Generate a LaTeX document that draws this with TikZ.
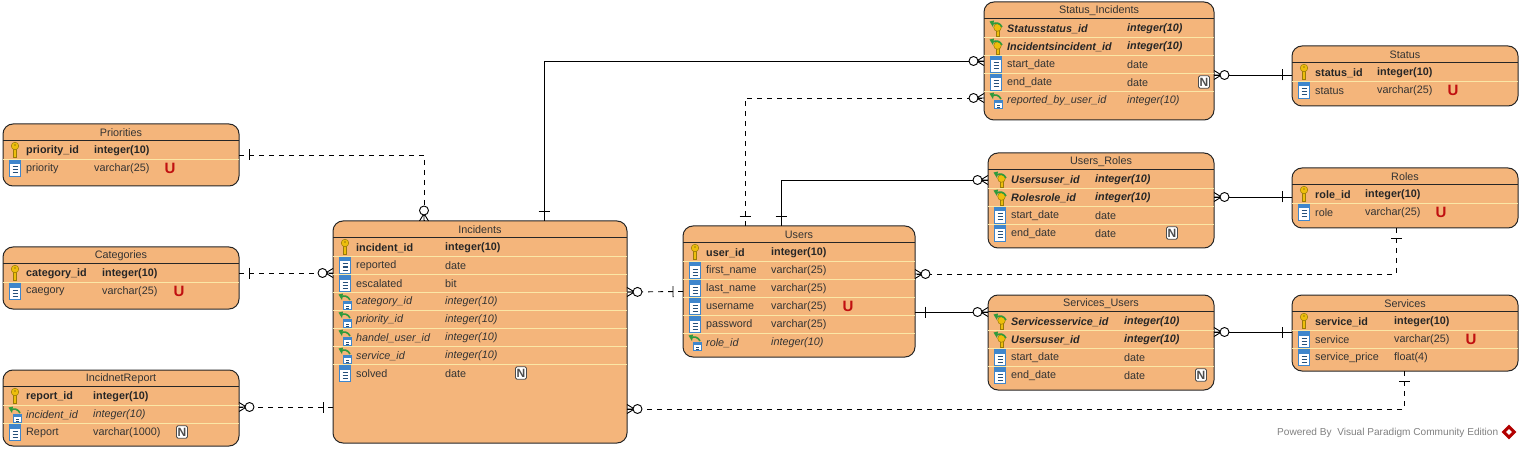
\documentclass[tikz,border=0pt]{standalone}
\usepackage{xcolor}
\usepackage{fontspec}
\setmainfont{Liberation Sans}
\usepackage{tikz}
\usetikzlibrary{decorations.markings,shapes.geometric}
\definecolor{tblfill}{HTML}{F4B57B}
\definecolor{tblrule}{HTML}{FBE7A6}
\definecolor{keygold}{HTML}{EDBE0C}
\definecolor{keyedge}{HTML}{9A7A08}
\definecolor{colblue}{HTML}{3F86CC}
\definecolor{fkgreen}{HTML}{2F9A3C}
\definecolor{badgered}{HTML}{C01010}
\newcommand{\entity}[8]{%
  \node[tbl, minimum width={(#4-#2)*1pt}, minimum height={(#5-#3)*1pt}] (#1) at (#2,#3) {};
  \node[tbltitle] (#1title) at ([yshift=-9pt]#1.north) {#6};
  \draw[tblhead] ([yshift=-16.5pt]#1.north west) -- ([yshift=-16.5pt]#1.north east);
  \foreach \r in {1,...,#7} {
    \draw[tblsep] ([yshift={-17.5pt-18pt*\r}]#1.north west) -- ([yshift={-17.5pt-18pt*\r}]#1.north east);
  }
  \def\typeoff{#8}%
}
\newcommand{\attr}[5]{%
  \pic at ([xshift=12pt,yshift={-26pt-18pt*#2}]#1.north west) {#3icon};
  \node[#3txt] (#1name#2) at ([xshift=23pt,yshift={-26.8pt-18pt*#2}]#1.north west) {#4};
  \node[#3txt] (#1type#2) at ([xshift=\typeoff pt,yshift={-26.8pt-18pt*#2}]#1.north west) {#5};
}
\begin{document}
\begin{tikzpicture}[
  x=1pt, y=-1pt,
  font=\fontsize{10.8}{12}\selectfont,
  tbl/.style={draw=black!85, line width=1pt, fill=tblfill, rounded corners=10pt, anchor=north west, inner sep=0pt, outer sep=0pt},
  tbltitle/.style={inner sep=0pt, text=black!80},
  tblhead/.style={black!85, line width=0.9pt},
  tblsep/.style={tblrule, line width=0.9pt},
  pktxt/.style={anchor=west, inner sep=0pt, font=\fontsize{10.8}{12}\selectfont\bfseries, text=black!85},
  coltxt/.style={anchor=west, inner sep=0pt, text=black!80},
  fktxt/.style={anchor=west, inner sep=0pt, font=\fontsize{10.8}{12}\selectfont\itshape, text=black!80},
  pfktxt/.style={anchor=west, inner sep=0pt, font=\fontsize{10.8}{12}\selectfont\bfseries\itshape, text=black!85},
  ubadge/.style={inner sep=0pt, font=\fontsize{15}{15}\selectfont\bfseries, text=badgered},
  nbadge/.style={draw=black!70, fill=white, rounded corners=1.5pt, line width=0.9pt, inner sep=0pt, minimum width=11pt, minimum height=12.5pt, font=\fontsize{12}{12}\selectfont\bfseries, text=black!70},
  rel/.style={line width=0.9pt, black, postaction={decorate, decoration={markings,
    mark=at position 10pt with {\draw[solid, line width=0.9pt] (0,-5.5) -- (0,5.5);},
    mark=at position -10.5pt with {
      \draw[solid, line width=0.9pt] (3,0) -- (10.5,-4.5) (3,0) -- (10.5,4.5) (3,0) -- (10.5,0);
      \draw[solid, line width=0.9pt, fill=white] (0,0) circle[radius=4.5];}}}},
  dep/.style={rel, dash pattern=on 5pt off 5pt},
  pkicon/.pic={
    \draw[keyedge, fill=keygold, line width=0.5pt] (-1.5,-2) -- (-1.5,7.5) -- (1.5,7.5) -- (1.5,-2) -- cycle;
    \draw[keyedge, fill=keygold, line width=0.5pt] (0,-4) ellipse[x radius=3.8, y radius=3.8];
    \fill[keyedge] (0,-5) circle[radius=0.9];
  },
  colicon/.pic={
    \draw[colblue, fill=white, line width=0.8pt] (-5.5,-7.5) rectangle (5.5,8);
    \fill[colblue] (-5.5,-7.5) rectangle (5.5,-3.5);
    \foreach \h in {-1,2,5} { \draw[colblue!60!black, line width=1pt] (-2.5,\h) -- (2.5,\h); }
  },
  fkicon/.pic={
    \draw[colblue, fill=white, line width=0.7pt] (-1.5,0.5) rectangle (6,8.5);
    \fill[colblue] (-1.5,0.5) rectangle (6,3);
    \draw[colblue!60!black, line width=0.9pt] (1,5) -- (3.5,5) (1,7) -- (3.5,7);
    \draw[fkgreen, line width=1.6pt] (5,-1) .. controls (3,-5) and (-1,-6) .. (-3.5,-4);
    \fill[fkgreen] (-6.5,-6.5) -- (-2,-7.5) -- (-3,-0.8) -- cycle;
  },
  pfkicon/.pic={
    \draw[keyedge, fill=keygold, line width=0.5pt] (0,0) -- (0,8) -- (3,8) -- (3,0) -- cycle;
    \draw[keyedge, fill=keygold, line width=0.5pt] (1.5,-0.5) ellipse[x radius=3.8, y radius=3.8];
    \draw[fkgreen, line width=1.6pt] (6,-1) .. controls (4,-5) and (0,-6) .. (-3,-4);
    \fill[fkgreen] (-6.5,-6.5) -- (-2,-7.5) -- (-3,-0.8) -- cycle;
  }
]
\useasboundingbox (0,0) rectangle (1521,449);
% tables
\entity{priorities}{3}{124}{239}{186}{Priorities}{1}{91}
\attr{priorities}{0}{pk}{priority\_id}{integer(10)}
\attr{priorities}{1}{col}{priority}{varchar(25)}
\node[ubadge] (priorities u) at (170,168) {U};

\entity{categories}{3}{247}{239}{309}{Categories}{1}{99}
\attr{categories}{0}{pk}{category\_id}{integer(10)}
\attr{categories}{1}{col}{caegory}{varchar(25)}
\node[ubadge] (categories u) at (179,291) {U};

\entity{report}{3}{370}{239}{446}{IncidnetReport}{2}{90}
\attr{report}{0}{pk}{report\_id}{integer(10)}
\attr{report}{1}{fk}{incident\_id}{integer(10)}
\attr{report}{2}{col}{Report}{varchar(1000)}
\node[nbadge] (report n) at (182,432) {N};

\entity{incidents}{333}{221}{627}{443}{Incidents}{7}{112}
\attr{incidents}{0}{pk}{incident\_id}{integer(10)}
\attr{incidents}{1}{col}{reported}{date}
\attr{incidents}{2}{col}{escalated}{bit}
\attr{incidents}{3}{fk}{category\_id}{integer(10)}
\attr{incidents}{4}{fk}{priority\_id}{integer(10)}
\attr{incidents}{5}{fk}{handel\_user\_id}{integer(10)}
\attr{incidents}{6}{fk}{service\_id}{integer(10)}
\attr{incidents}{7}{col}{solved}{date}
\node[nbadge] (incidents n) at (521,373) {N};

\entity{users}{683}{226}{915}{357}{Users}{5}{88}
\attr{users}{0}{pk}{user\_id}{integer(10)}
\attr{users}{1}{col}{first\_name}{varchar(25)}
\attr{users}{2}{col}{last\_name}{varchar(25)}
\attr{users}{3}{col}{username}{varchar(25)}
\attr{users}{4}{col}{password}{varchar(25)}
\attr{users}{5}{fk}{role\_id}{integer(10)}
\node[ubadge] (users u) at (848,306) {U};

\entity{statusinc}{984}{2}{1214}{120}{Status\_Incidents}{4}{143}
\attr{statusinc}{0}{pfk}{Statusstatus\_id}{integer(10)}
\attr{statusinc}{1}{pfk}{Incidentsincident\_id}{integer(10)}
\attr{statusinc}{2}{col}{start\_date}{date}
\attr{statusinc}{3}{col}{end\_date}{date}
\attr{statusinc}{4}{fk}{reported\_by\_user\_id}{integer(10)}
\node[nbadge] (statusinc n) at (1204,82) {N};

\entity{usersroles}{988}{153}{1214}{248}{Users\_Roles}{3}{107}
\attr{usersroles}{0}{pfk}{Usersuser\_id}{integer(10)}
\attr{usersroles}{1}{pfk}{Rolesrole\_id}{integer(10)}
\attr{usersroles}{2}{col}{start\_date}{date}
\attr{usersroles}{3}{col}{end\_date}{date}
\node[nbadge] (usersroles n) at (1172,233) {N};

\entity{servusers}{988}{295}{1214}{390}{Services\_Users}{3}{136}
\attr{servusers}{0}{pfk}{Servicesservice\_id}{integer(10)}
\attr{servusers}{1}{pfk}{Usersuser\_id}{integer(10)}
\attr{servusers}{2}{col}{start\_date}{date}
\attr{servusers}{3}{col}{end\_date}{date}
\node[nbadge] (servusers n) at (1201,375) {N};

\entity{status}{1292}{46}{1518}{106}{Status}{1}{85}
\attr{status}{0}{pk}{status\_id}{integer(10)}
\attr{status}{1}{col}{status}{varchar(25)}
\node[ubadge] (status u) at (1453,90) {U};

\entity{roles}{1292}{168}{1518}{228}{Roles}{1}{73}
\attr{roles}{0}{pk}{role\_id}{integer(10)}
\attr{roles}{1}{col}{role}{varchar(25)}
\node[ubadge] (roles u) at (1441,212) {U};

\entity{services}{1292}{295}{1518}{371}{Services}{2}{102}
\attr{services}{0}{pk}{service\_id}{integer(10)}
\attr{services}{1}{col}{service}{varchar(25)}
\attr{services}{2}{col}{service\_price}{float(4)}
\node[ubadge] (services u) at (1471,339) {U};

% relations, always one side first
\draw[dep] (priorities.east) -| ([xshift=-56pt]incidents.north);
\draw[dep] ([yshift=5pt]categories.east) -- ([yshift=59pt]incidents.west);
\draw[dep] ([yshift=-75pt]incidents.west) -- ([yshift=1pt]report.east);
\draw[dep] (users.west) -- ([yshift=40pt]incidents.east);
\draw[rel] ([xshift=64pt]incidents.north) |- (statusinc.west);
\draw[dep] ([xshift=-54pt]users.north) |- ([yshift=-37pt]statusinc.west);
\draw[rel] ([xshift=-18pt]users.north) |- ([yshift=20.5pt]usersroles.west);
\draw[rel] ([yshift=-20.5pt]users.east) -- ([yshift=30.5pt]servusers.west);
\draw[dep] ([xshift=-9pt]roles.south) |- ([yshift=17.5pt]users.east);
\draw[dep] ([xshift=-1pt]services.south) |- ([yshift=-77pt]incidents.east);
\draw[rel] ([yshift=1pt]status.west) -- ([yshift=-14pt]statusinc.east);
\draw[rel] ([yshift=1pt]roles.west) -- ([yshift=3.5pt]usersroles.east);
\draw[rel] ([yshift=1pt]services.west) -- ([yshift=10.5pt]servusers.east);

% footer
\node[anchor=west, inner sep=0pt, text=black!50, font=\fontsize{10.1}{12}\selectfont] (powered) at (1277,433) {Powered By\ \ Visual Paradigm Community Edition};
\node[diamond, fill=red!70!black, minimum width=15pt, minimum height=15pt, inner sep=0pt] (logo) at (1509,432) {};
\node[diamond, fill=white, minimum width=6pt, minimum height=6pt, inner sep=0pt] (logohole) at (logo.center) {};
\end{tikzpicture}
\end{document}
